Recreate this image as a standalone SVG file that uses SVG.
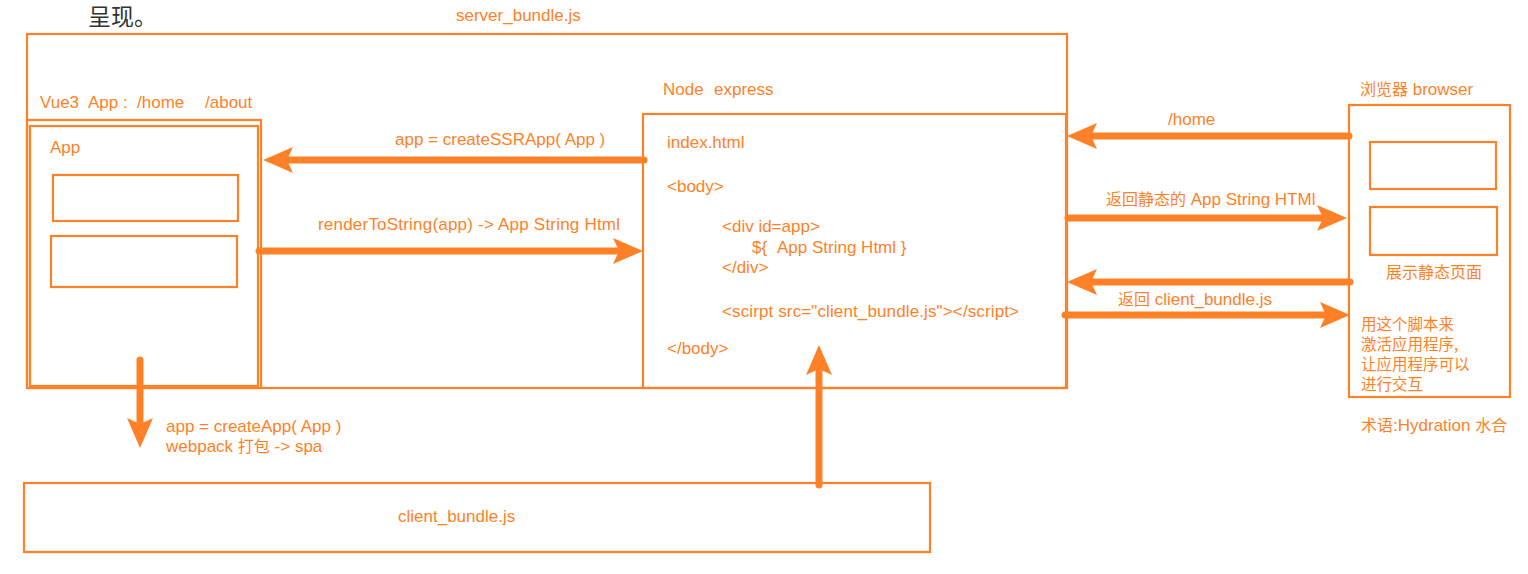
<svg xmlns="http://www.w3.org/2000/svg" width="1528" height="574" viewBox="0 0 1528 574">
<style>
  .box{fill:none;stroke:#FF8127;stroke-width:2.2}
  .t{fill:#FF8127;font-family:"Liberation Sans","Noto Sans CJK SC",sans-serif;font-size:17px}
  .c{fill:#FF8127;font-family:"Noto Sans CJK SC",sans-serif;font-size:16px}
  .cs{fill:#FF8127;font-family:"Noto Sans CJK SC",sans-serif;font-size:15.5px}
  .arr{fill:none;stroke:#FF8127;stroke-width:7;stroke-linecap:round}
  .title{fill:#333333;font-family:"Noto Sans CJK SC",sans-serif;font-size:23px}
</style>
<defs>
  <marker id="ah" viewBox="0 -14 31 28" markerWidth="31" markerHeight="28" refX="6" refY="0" orient="auto" markerUnits="userSpaceOnUse">
    <path d="M0,-13 L30,0 L0,13 L6,0 Z" fill="#FF8127"/>
  </marker>
</defs>
<rect width="1528" height="574" fill="#ffffff"/>
<text class="title" x="88" y="25">呈现。</text>

<g id="server-bundle">
  <rect class="box" x="27" y="34" width="1040" height="354"/>
  <text class="t" x="456" y="21">server_bundle.js</text>
</g>

<g id="vue-app">
  <rect class="box" x="27" y="120" width="234" height="268"/>
  <rect class="box" x="30" y="126" width="228" height="260"/>
  <rect class="box" x="53" y="175" width="185" height="46"/>
  <rect class="box" x="51" y="236" width="186" height="51"/>
  <text class="t" x="40" y="108">Vue3</text>
  <text class="t" x="88" y="108">App :</text>
  <text class="t" x="137" y="108">/home</text>
  <text class="t" x="205" y="108">/about</text>
  <text class="t" x="50" y="153">App</text>
</g>

<g id="node-express">
  <rect class="box" x="643" y="114" width="423" height="274"/>
  <text class="t" x="663" y="95">Node</text>
  <text class="t" x="714" y="95">express</text>
  <text class="t" x="667" y="148">index.html</text>
  <text class="t" x="667" y="192">&lt;body&gt;</text>
  <text class="t" x="722" y="232">&lt;div id=app&gt;</text>
  <text class="t" x="752" y="253">${</text>
  <text class="t" x="777" y="253">App String Html }</text>
  <text class="t" x="722" y="273">&lt;/div&gt;</text>
  <text class="t" x="722" y="317" textLength="297" lengthAdjust="spacing">&lt;scirpt src="client_bundle.js"&gt;&lt;/script&gt;</text>
  <text class="t" x="667" y="354">&lt;/body&gt;</text>
</g>

<g id="browser">
  <rect class="box" x="1349" y="105" width="161" height="292"/>
  <rect class="box" x="1370" y="142" width="126" height="47"/>
  <rect class="box" x="1370" y="207" width="127" height="48"/>
  <text class="c" x="1360" y="95">浏览器<tspan class="t"> browser</tspan></text>
  <text class="c" x="1386" y="278">展示静态页面</text>
  <text class="cs" x="1361" y="330">用这个脚本来</text>
  <text class="cs" x="1361" y="350">激活应用程序,</text>
  <text class="cs" x="1361" y="370">让应用程序可以</text>
  <text class="cs" x="1361" y="390">进行交互</text>
  <text class="c" x="1361" y="431">术语<tspan class="t">:Hydration </tspan>水合</text>
</g>

<g id="client-bundle">
  <rect class="box" x="24" y="483" width="906" height="69"/>
  <text class="t" x="398" y="522">client_bundle.js</text>
</g>

<g id="connectors">
  <line class="arr" x1="644" y1="160" x2="287" y2="160" marker-end="url(#ah)"/>
  <line class="arr" x1="259" y1="251" x2="619" y2="251" marker-end="url(#ah)"/>
  <line class="arr" x1="1349" y1="136" x2="1091" y2="136" marker-end="url(#ah)"/>
  <line class="arr" x1="1068" y1="218" x2="1323" y2="218" marker-end="url(#ah)"/>
  <line class="arr" x1="1350" y1="282" x2="1091" y2="282" marker-end="url(#ah)"/>
  <line class="arr" x1="1065" y1="315" x2="1326" y2="315" marker-end="url(#ah)"/>
  <line class="arr" x1="140" y1="360" x2="140" y2="424" marker-end="url(#ah)"/>
  <line class="arr" x1="819" y1="485" x2="819" y2="369" marker-end="url(#ah)"/>
  <text class="t" x="395" y="145">app = createSSRApp( App )</text>
  <text class="t" x="318" y="230" textLength="302" lengthAdjust="spacing">renderToString(app) -&gt; App String Html</text>
  <text class="t" x="1168" y="125">/home</text>
  <text class="c" x="1106" y="205">返回静态的<tspan class="t"> App String HTMl</tspan></text>
  <text class="c" x="1118" y="305">返回<tspan class="t"> client_bundle.js</tspan></text>
  <text class="t" x="166" y="432">app = createApp( App )</text>
  <text class="t" x="166" y="452">webpack <tspan class="c">打包</tspan> -&gt; spa</text>
</g>
</svg>
